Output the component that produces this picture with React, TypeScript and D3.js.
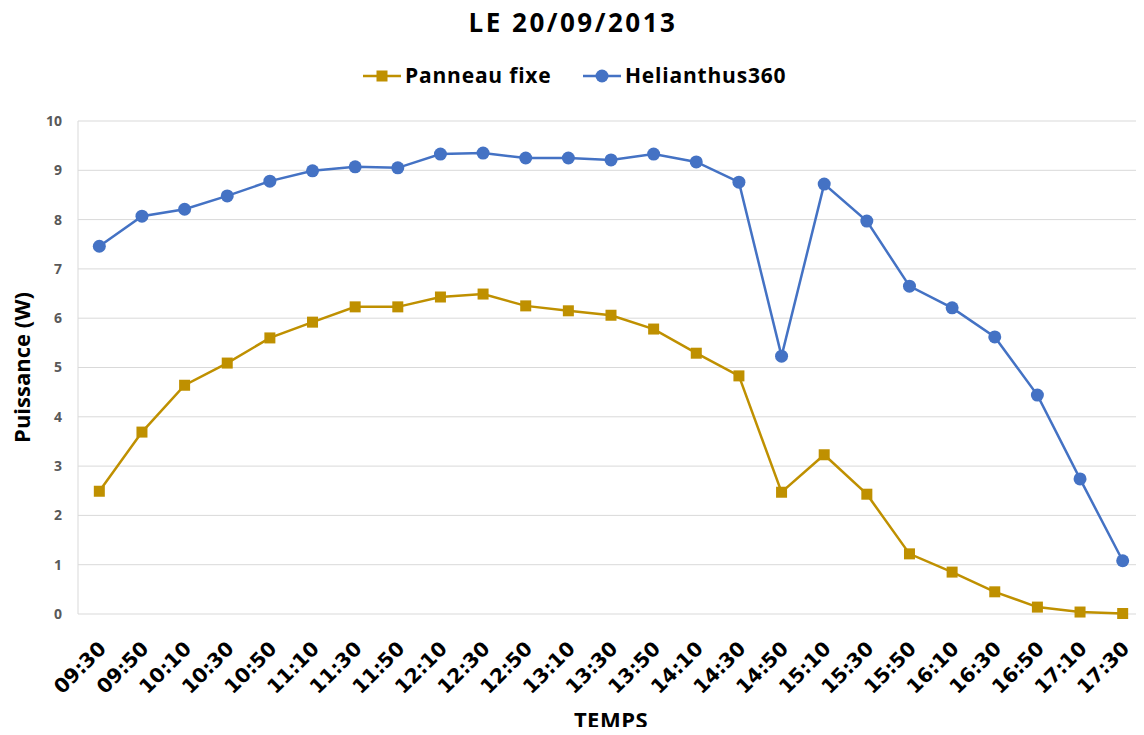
import { useEffect, useRef } from "react";
import * as d3 from "d3";

const times = [
  "09:30", "09:50", "10:10", "10:30", "10:50", "11:10", "11:30", "11:50", "12:10",
  "12:30", "12:50", "13:10", "13:30", "13:50", "14:10", "14:30", "14:50", "15:10",
  "15:30", "15:50", "16:10", "16:30", "16:50", "17:10", "17:30",
];
const panneauFixe = [
  2.49, 3.69, 4.64, 5.09, 5.6, 5.92, 6.23, 6.23, 6.43, 6.49, 6.25, 6.15, 6.06, 5.78,
  5.29, 4.83, 2.47, 3.23, 2.43, 1.22, 0.85, 0.45, 0.14, 0.04, 0.01,
];
const helianthus = [
  7.46, 8.07, 8.21, 8.48, 8.78, 8.99, 9.07, 9.05, 9.33, 9.35, 9.25, 9.25, 9.21, 9.33,
  9.17, 8.76, 5.23, 8.72, 7.97, 6.65, 6.21, 5.62, 4.44, 2.74, 1.08,
];
const yTicks = [0, 1, 2, 3, 4, 5, 6, 7, 8, 9, 10];

const FONT = "'Open Sans', 'DejaVu Sans', sans-serif";
const ORANGE = "#BF9000";
const BLUE = "#4472C4";

const W = 1144;
const H = 735;
const margin = { top: 121, right: 0, bottom: 121, left: 78 };

const Chart = () => {
  const svgRef = useRef<SVGSVGElement | null>(null);

  useEffect(() => {
    if (!svgRef.current) return;
    const svg = d3.select(svgRef.current);
    svg.selectAll("*").remove();

    const innerW = W - margin.left - margin.right;
    const innerH = H - margin.top - margin.bottom;

    const x = d3.scaleBand().domain(times).range([0, innerW]);
    const y = d3.scaleLinear().domain([0, 10]).range([innerH, 0]);
    const cx = (t: string) => (x(t) || 0) + x.bandwidth() / 2;

    const g = svg.append("g").attr("transform", `translate(${margin.left},${margin.top})`);

    // gridlines
    g.selectAll(".grid")
      .data(yTicks)
      .join("line")
      .attr("x1", 0)
      .attr("x2", innerW)
      .attr("y1", (d) => y(d))
      .attr("y2", (d) => y(d))
      .attr("stroke", "#d9d9d9")
      .attr("stroke-width", 1);

    g.append("line")
      .attr("x1", 0).attr("x2", 0)
      .attr("y1", 0).attr("y2", innerH)
      .attr("stroke", "#d9d9d9");

    // y tick labels
    g.selectAll(".ylab")
      .data(yTicks)
      .join("text")
      .attr("x", -16)
      .attr("y", (d) => y(d))
      .attr("dy", "0.35em")
      .attr("text-anchor", "end")
      .attr("font-family", FONT)
      .attr("font-weight", "bold")
      .attr("font-size", 14)
      .attr("fill", "#595959")
      .text((d) => d);

    // x tick labels
    g.selectAll(".xlab")
      .data(times)
      .join("text")
      .attr("transform", (d) => `translate(${cx(d) + 3},${innerH + 31}) rotate(-45)`)
      .attr("text-anchor", "end")
      .attr("dy", "0.35em")
      .attr("font-family", "'DejaVu Sans', sans-serif")
      .attr("font-weight", "bold")
      .attr("font-size", 20)
      .attr("fill", "#000")
      .text((d) => d);

    const line = d3.line<number>()
      .x((_, i) => cx(times[i]))
      .y((d) => y(d));

    // Panneau fixe
    g.append("path")
      .datum(panneauFixe)
      .attr("fill", "none")
      .attr("stroke", ORANGE)
      .attr("stroke-width", 2.5)
      .attr("d", line);
    g.selectAll(".sq")
      .data(panneauFixe)
      .join("rect")
      .attr("x", (_, i) => cx(times[i]) - 5.5)
      .attr("y", (d) => y(d) - 5.5)
      .attr("width", 11)
      .attr("height", 11)
      .attr("fill", ORANGE);

    // Helianthus360
    g.append("path")
      .datum(helianthus)
      .attr("fill", "none")
      .attr("stroke", BLUE)
      .attr("stroke-width", 2.5)
      .attr("d", line);
    g.selectAll(".dot")
      .data(helianthus)
      .join("circle")
      .attr("cx", (_, i) => cx(times[i]))
      .attr("cy", (d) => y(d))
      .attr("r", 6.5)
      .attr("fill", BLUE);

    // title
    svg.append("text")
      .attr("x", 573)
      .attr("y", 32)
      .attr("text-anchor", "middle")
      .attr("font-family", FONT)
      .attr("font-weight", "bold")
      .attr("font-size", 26)
      .attr("letter-spacing", 2.5)
      .attr("fill", "#000")
      .text("LE 20/09/2013");

    // legend
    const legend = [
      { name: "Panneau fixe", color: ORANGE, shape: "square", x: 363 },
      { name: "Helianthus360", color: BLUE, shape: "circle", x: 583 },
    ];
    legend.forEach((l) => {
      const lg = svg.append("g").attr("transform", `translate(${l.x},76)`);
      lg.append("line").attr("x1", 0).attr("x2", 38).attr("stroke", l.color).attr("stroke-width", 2.5);
      if (l.shape === "square") {
        lg.append("rect").attr("x", 13.5).attr("y", -5.5).attr("width", 11).attr("height", 11).attr("fill", l.color);
      } else {
        lg.append("circle").attr("cx", 19).attr("cy", 0).attr("r", 6.5).attr("fill", l.color);
      }
      lg.append("text")
        .attr("x", 42)
        .attr("dy", "0.35em")
        .attr("font-family", FONT)
        .attr("font-weight", "bold")
        .attr("font-size", 21)
        .attr("letter-spacing", 0.8)
        .attr("fill", "#000")
        .text(l.name);
    });

    // axis titles
    svg.append("text")
      .attr("transform", `translate(30,${margin.top + innerH / 2}) rotate(-90)`)
      .attr("text-anchor", "middle")
      .attr("font-family", FONT)
      .attr("font-weight", "bold")
      .attr("font-size", 22)
      .attr("fill", "#000")
      .text("Puissance (W)");

    svg.append("text")
      .attr("x", 611)
      .attr("y", 728)
      .attr("text-anchor", "middle")
      .attr("font-family", FONT)
      .attr("font-weight", "bold")
      .attr("font-size", 22)
      .attr("letter-spacing", 0.5)
      .attr("fill", "#000")
      .text("TEMPS");
  }, []);

  return <svg ref={svgRef} width={W} height={H} style={{ display: "block" }} />;
};

export default function App() {
  return (
    <div style={{ margin: -8 }}>
      <Chart />
    </div>
  );
}
